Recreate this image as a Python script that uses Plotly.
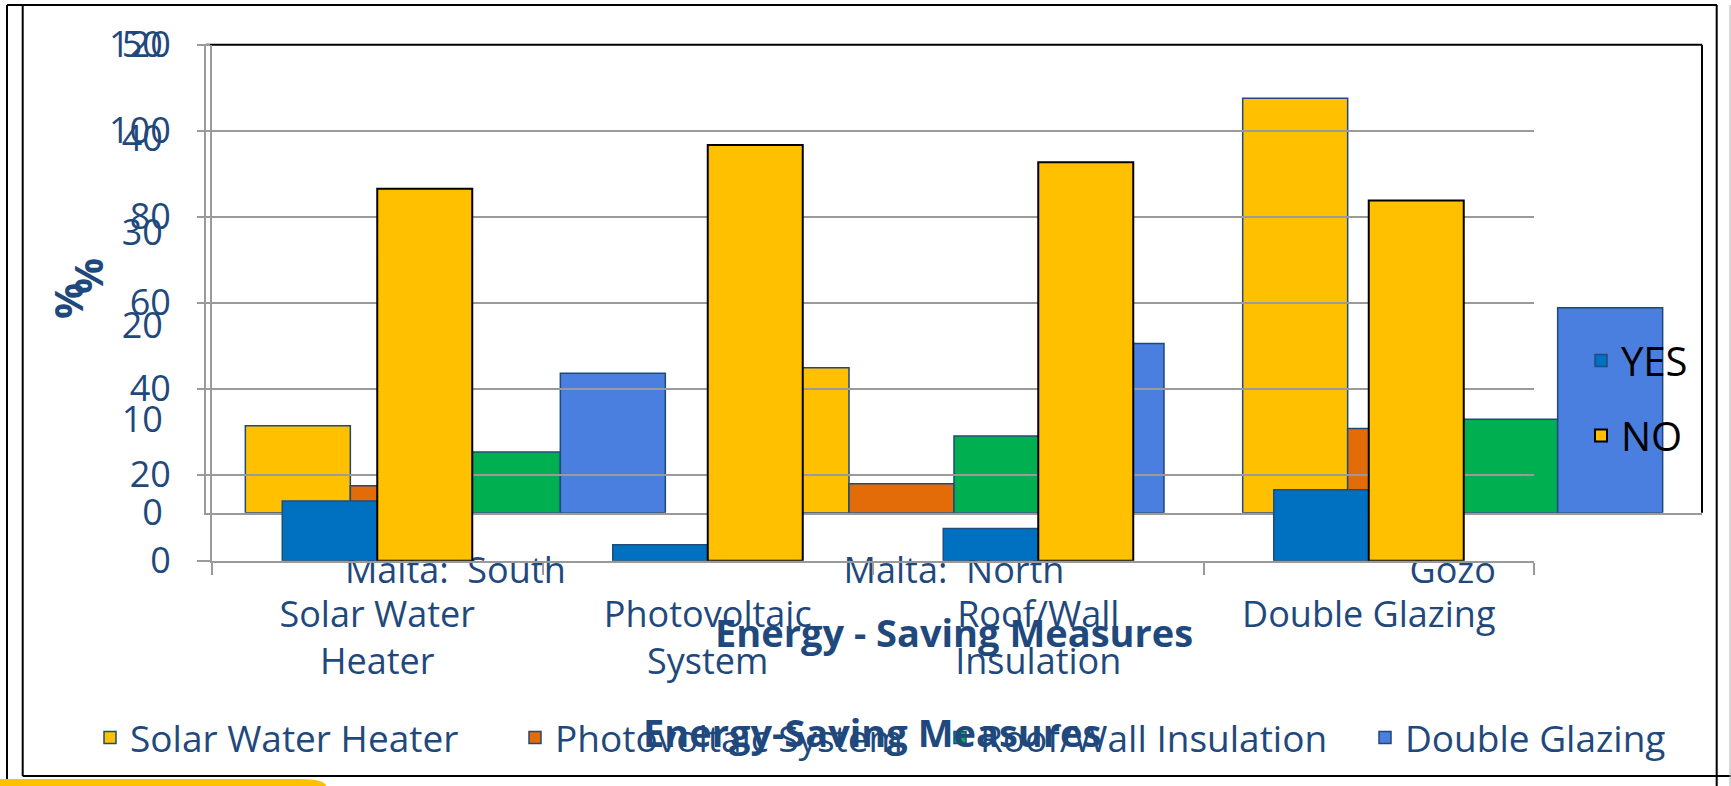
import plotly.graph_objects as go

W, H = 1731, 786

# ---------------- data ----------------
regions = ["Malta:\u00a0 South", "Malta:\u00a0 North", "Gozo"]
solar_water_heater = [9.3, 15.5, 44.3]
photovoltaic_system = [2.9, 3.1, 9.0]
roof_wall_insulation = [6.5, 8.2, 10.0]
double_glazing = [14.9, 18.1, 21.9]
region_series_names = ["Solar Water Heater", "Photovoltaic System",
                       "Roof/Wall Insulation", "Double Glazing"]
region_ticks = [0, 10, 20, 30, 40, 50]

measures = ["Solar Water<br>Heater", "Photovoltaic<br>System",
            "Roof/Wall<br>Insulation", "Double Glazing"]
yes_values = [13.9, 3.7, 7.5, 16.5]
no_values = [86.5, 96.7, 92.7, 83.8]
answer_ticks = [0, 20, 40, 60, 80, 100, 120]

# ---------------- helpers ----------------
def px(x):
    return x / W

def py(y):
    return 1 - y / H

NAVY = "#1F497D"
GRID = "#9a9a9a"
FONT = "Open Sans"

fig = go.Figure()

# chart A (regions) on x/y
a_colors = ["#FFC000", "#E36C09", "#00B050", "#4A7EDF"]
a_series = [solar_water_heater, photovoltaic_system, roof_wall_insulation, double_glazing]
wa = 105 / 498.7
for i, (name, vals, col) in enumerate(zip(region_series_names, a_series, a_colors)):
    fig.add_trace(go.Bar(
        x=regions, y=vals, name=name, xaxis="x", yaxis="y",
        marker=dict(color=col, line=dict(color=NAVY, width=1.5)),
        width=wa, offset=(i - 2) * wa, legend="legend",
    ))

# chart B (yes / no) on x2/y2
wb = 95 / 330.5
fig.add_trace(go.Bar(
    x=measures, y=yes_values, name="YES", xaxis="x2", yaxis="y2",
    marker=dict(color="#0070C0", line=dict(color="#1F4E79", width=1.5)),
    width=wb, offset=-wb, legend="legend2", legendgroup="yes",
))
fig.add_trace(go.Bar(
    x=measures, y=no_values, name="NO", xaxis="x2", yaxis="y2",
    marker=dict(color="#FFC000", line=dict(color="#000000", width=2)),
    width=wb, offset=0, legend="legend2", legendgroup="no",
))

tickfont = dict(family=FONT, size=36, color=NAVY)

# frame / decoration shapes (pixel -> paper)
shapes = []
def line(x0, y0, x1, y1, color="#000000", width=2):
    shapes.append(dict(type="line", xref="paper", yref="paper",
                       x0=px(x0), y0=py(y0), x1=px(x1), y1=py(y1),
                       line=dict(color=color, width=width), layer="below"))

# plot-area border of chart A (top/right black)
line(206, 44.8, 1702, 44.8)
line(1702, 44.8, 1702, 512.8)
# outer frames
line(7, 5, 1717, 5)
line(7, 5, 7, 786)
line(22.7, 5, 22.7, 776)
line(22.7, 776, 1731, 776)
line(1716.7, 5, 1716.7, 786)
line(1730, 5, 1730, 786, color="#b0b0b0", width=1)
# yellow blob bottom-left
shapes.append(dict(type="path", xref="paper", yref="paper",
                   path=f"M 0 {py(779)} L {px(300)} {py(779)} Q {px(325)} {py(779)} {px(326)} {py(786)} L 0 {py(786)} Z",
                   fillcolor="#FFC000", line=dict(width=0), layer="below"))

annotations = [
    dict(text="<b>Energy - Saving Measures</b>", x=px(954), y=py(632), xref="paper", yref="paper",
         showarrow=False, font=dict(family=FONT, size=38, color=NAVY), xanchor="center", yanchor="middle"),
    dict(text="<b>Energy-Saving Measures</b>", x=px(872), y=py(732), xref="paper", yref="paper",
         showarrow=False, font=dict(family=FONT, size=38, color=NAVY), xanchor="center", yanchor="middle"),
    dict(text="<b>%</b>", x=px(88), y=py(276), xref="paper", yref="paper", textangle=-90,
         showarrow=False, font=dict(family=FONT, size=40, color=NAVY), xanchor="center", yanchor="middle"),
    dict(text="<b>%</b>", x=px(68), y=py(301), xref="paper", yref="paper", textangle=-90,
         showarrow=False, font=dict(family=FONT, size=40, color=NAVY), xanchor="center", yanchor="middle"),
]

fig.update_layout(
    template="none",
    width=W, height=H,
    margin=dict(l=0, r=0, t=0, b=0, pad=0, autoexpand=False),
    paper_bgcolor="white", plot_bgcolor="rgba(0,0,0,0)",
    barmode="overlay",
    font=dict(family=FONT, color=NAVY),
    xaxis=dict(domain=[px(206), px(1702)], anchor="y", type="category", automargin=False,
               showline=True, linecolor=GRID, linewidth=2, ticks="",
               showgrid=False, tickfont=tickfont, ticklabelstandoff=25, zeroline=False),
    yaxis=dict(domain=[py(512.8), py(44.8)], anchor="x", range=[0, 50], automargin=False,
               tickvals=region_ticks, showgrid=False, zeroline=False,
               showline=True, linecolor=GRID, linewidth=2, ticks="",
               tickfont=tickfont, ticklabelstandoff=34),
    xaxis2=dict(domain=[px(212), px(1534)], anchor="y2", type="category", automargin=False,
                showline=True, linecolor=GRID, linewidth=2, ticks="outside",
                tickson="boundaries", ticklen=12, tickwidth=2, tickcolor=GRID,
                showgrid=False, tickfont=tickfont, ticklabelstandoff=21, zeroline=False),
    yaxis2=dict(domain=[py(560.7), py(44.8)], anchor="x2", range=[0, 120], automargin=False,
                tickvals=answer_ticks, showgrid=True, gridcolor=GRID, gridwidth=2,
                zeroline=False, showline=True, linecolor=GRID, linewidth=2,
                ticks="outside", ticklen=13, tickwidth=2, tickcolor=GRID,
                tickfont=tickfont, ticklabelstandoff=19),
    legend=dict(orientation="h", x=px(90), xanchor="left", y=py(738), yanchor="middle",
                font=dict(family=FONT, size=37, color=NAVY), bgcolor="rgba(0,0,0,0)",
                traceorder="normal", entrywidth=380, entrywidthmode="pixels"),
    legend2=dict(orientation="v", x=px(1581), xanchor="left", y=py(398), yanchor="middle",
                 font=dict(family=FONT, size=40, color="#000000"), bgcolor="rgba(0,0,0,0)",
                 tracegroupgap=20),
    shapes=shapes,
    annotations=annotations,
    showlegend=True,
)

fig.write_html("out.html")
